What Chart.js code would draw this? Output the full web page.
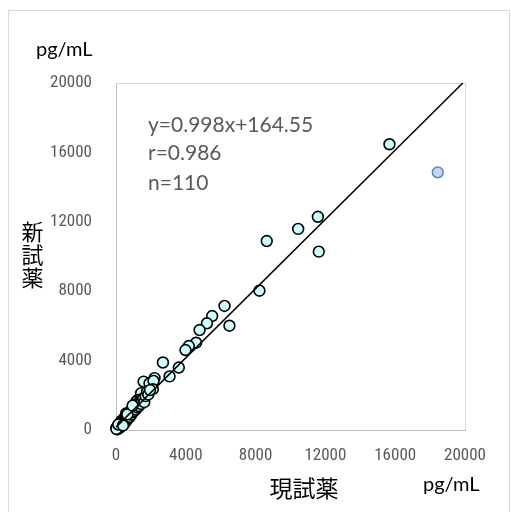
<!DOCTYPE html>
<html>
<head>
<meta charset="utf-8">
<script src="https://cdn.jsdelivr.net/npm/chart.js@4"></script>
<style>
  html, body { margin: 0; padding: 0; background: #ffffff; }
  #wrap { width: 511px; height: 512px; position: relative; }
</style>
</head>
<body>
<div id="wrap"><canvas id="c" width="511" height="512"></canvas></div>
<script>
// 現試薬 (x, pg/mL) values
const currentReagent = [
  15670, 11570, 10440, 8640, 11620, 8220, 6220, 6500, 5510, 5210,
  4790, 4590, 4170, 3980, 2690, 3600, 3070, 2210, 1580, 2020,
  1920, 2150, 2110, 1500, 1440, 1250, 1160, 1350, 1060, 870,
  680, 580, 490, 300, 200, 100,
  30, 50, 60, 80, 90, 110, 120, 140, 150, 160,
  180, 190, 210, 220, 240, 250, 270, 280, 300, 310,
  330, 340, 360, 380, 390, 410, 430, 440, 460, 480,
  500, 520, 540, 560, 590, 610, 630, 660, 690, 710,
  740, 760, 790, 820, 850, 880, 910, 940, 970, 1000,
  1030, 1070, 1100, 1130, 1180, 1220, 1270, 1310, 1380, 1420,
  1480, 1560, 1620, 1700, 1780, 1850, 1950, 70, 20, 130,
  400, 650, 950
];
// 新試薬 (y, pg/mL) values
const newReagent = [
  16470, 12290, 11590, 10890, 10280, 8030, 7150, 6010, 6570, 6150,
  5760, 5030, 4840, 4610, 3890, 3600, 3090, 2990, 2790, 2490,
  2690, 2830, 2350, 2080, 2120, 1730, 1630, 1540, 1440, 1150,
  870, 960, 680, 480, 190, 190,
  120, 80, 150, 210, 60, 130, 250, 170, 300, 90,
  220, 350, 260, 140, 310, 420, 200, 360, 280, 520,
  410, 250, 470, 380, 560, 330, 500, 620, 450, 560,
  400, 720, 610, 500, 700, 820, 580, 760, 920, 680,
  830, 1010, 760, 950, 1080, 880, 1200, 1020, 1150, 1300,
  1100, 1250, 1380, 1180, 1420, 1300, 1560, 1380, 1650, 1500,
  1700, 1820, 1600, 1950, 2200, 2050, 2300, 40, 60, 310,
  260, 900, 1400
];
// highlighted sample (blue marker)
const outlierX = [18440];
const outlierY = [14850];
// regression line y=0.998x+164.55, end points
const trendX = [0, 19875];
const trendY = [164.55, 20000];
const tickValues = [0, 4000, 8000, 12000, 16000, 20000];
const equationLines = ['y=0.998x+164.55', 'r=0.986', 'n=110'];
const xTitle = '現試薬';
const yTitle = '新試薬';
const unitLabel = 'pg/mL';

const mainPoints = currentReagent.map((x, i) => ({x: x, y: newReagent[i]}));
const outPoints = outlierX.map((x, i) => ({x: x, y: outlierY[i]}));
const trendPoints = trendX.map((x, i) => ({x: x, y: trendY[i]}));

const decor = {
  id: 'decor',
  beforeDraw(chart) {
    const ctx = chart.ctx;
    ctx.save();
    ctx.fillStyle = '#ffffff';
    ctx.fillRect(0, 0, chart.width, chart.height);
    ctx.strokeStyle = '#d9d9d9';
    ctx.lineWidth = 1;
    ctx.strokeRect(8.5, 10.5, 501, 520);
    const a = chart.chartArea;
    ctx.beginPath();
    ctx.moveTo(a.left, a.top + 0.5);
    ctx.lineTo(a.right + 0.5, a.top + 0.5);
    ctx.lineTo(a.right + 0.5, a.bottom);
    ctx.stroke();
    ctx.restore();
  },
  afterDraw(chart) {
    const ctx = chart.ctx;
    ctx.save();
    ctx.fillStyle = '#000000';
    ctx.textBaseline = 'alphabetic';
    ctx.textAlign = 'left';
    ctx.font = '20px Lato, "Noto Sans", sans-serif';
    ctx.fillText(unitLabel, 36, 56);
    ctx.fillText(unitLabel, 423, 491);
    ctx.font = '23px "Noto Sans CJK JP", sans-serif';
    ctx.textAlign = 'center';
    ctx.textBaseline = 'middle';
    ctx.fillText(xTitle, 304, 488);
    ctx.font = '22px "Noto Sans CJK JP", sans-serif';
    const chars = Array.from(yTitle);
    chars.forEach((ch, i) => ctx.fillText(ch, 32.5, 232 + i * 23));
    ctx.fillStyle = '#595959';
    ctx.textAlign = 'left';
    ctx.textBaseline = 'alphabetic';
    ctx.font = '21px Lato, "Noto Sans", sans-serif';
    const bases = [131.5, 160, 189.5];
    equationLines.forEach((t, i) => ctx.fillText(t, 148, bases[i]));
    ctx.restore();
  }
};

new Chart(document.getElementById('c'), {
  type: 'scatter',
  data: {
    datasets: [
      {
        type: 'line',
        data: trendPoints,
        borderColor: '#000000',
        borderWidth: 1.5,
        pointRadius: 0,
        fill: false,
        order: 0,
        clip: false
      },
      {
        data: outPoints,
        backgroundColor: '#c5d6ef',
        borderColor: '#5b88c9',
        borderWidth: 1.6,
        pointRadius: 5.4,
        order: 1,
        clip: false
      },
      {
        data: mainPoints,
        backgroundColor: '#ccffff',
        borderColor: '#000000',
        borderWidth: 1.6,
        pointRadius: 5.4,
        order: 2,
        clip: false
      }
    ]
  },
  options: {
    responsive: false,
    animation: false,
    events: [],
    layout: { padding: { left: 0, top: 83, right: 46, bottom: 0 } },
    plugins: { legend: { display: false }, tooltip: { enabled: false }, title: { display: false } },
    scales: {
      x: {
        type: 'linear',
        min: 0, max: 20000,
        afterFit(s) { s.height = 82; },
        afterBuildTicks(s) { s.ticks = tickValues.map(v => ({value: v})); },
        grid: { display: false },
        border: { display: true, color: '#bfbfbf', width: 1 },
        ticks: {
          color: '#595959',
          padding: 8,
          maxRotation: 0,
          autoSkip: false,
          font: { family: '"Liberation Sans Narrow", "Roboto Condensed", Lato, sans-serif', size: 17 },
          callback: v => String(v)
        }
      },
      y: {
        type: 'linear',
        min: 0, max: 20000,
        afterFit(s) { s.width = 116; },
        afterBuildTicks(s) { s.ticks = tickValues.map(v => ({value: v})); },
        grid: { display: false },
        border: { display: true, color: '#bfbfbf', width: 1 },
        ticks: {
          color: '#595959',
          padding: 16,
          autoSkip: false,
          font: { family: '"Liberation Sans Narrow", "Roboto Condensed", Lato, sans-serif', size: 17 },
          callback: v => String(v)
        }
      }
    }
  },
  plugins: [decor]
});
</script>
</body>
</html>
